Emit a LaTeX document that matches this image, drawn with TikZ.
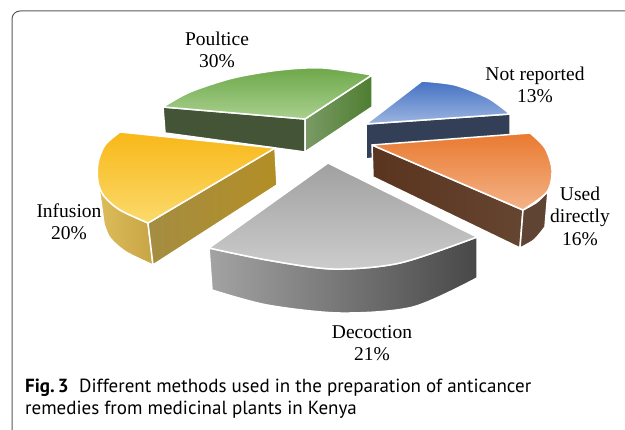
\documentclass[tikz,border=0pt]{standalone}
\usepackage{fontspec}
\setmainfont{Liberation Serif}
\newfontfamily\capfont{PT Sans}
\definecolor{poultopA}{HTML}{6EA84A}
\definecolor{poultopB}{HTML}{A8D08D}
\definecolor{poulwall}{HTML}{435536}
\definecolor{poulsideA}{HTML}{7A9A66}
\definecolor{poulsideB}{HTML}{4E7E30}
\definecolor{nottopA}{HTML}{4472C4}
\definecolor{nottopB}{HTML}{9DB5E0}
\definecolor{notwall}{HTML}{323F56}
\definecolor{inftopA}{HTML}{F8B818}
\definecolor{inftopB}{HTML}{FBDA6C}
\definecolor{infwallA}{HTML}{A48D42}
\definecolor{infwallB}{HTML}{B38E25}
\definecolor{infsideA}{HTML}{DCBC5C}
\definecolor{infsideB}{HTML}{C8A544}
\definecolor{usedtopA}{HTML}{E97A30}
\definecolor{usedtopB}{HTML}{F3B388}
\definecolor{usedwallA}{HTML}{5A341E}
\definecolor{usedwallB}{HTML}{654531}
\definecolor{usedside}{HTML}{5F4333}
\definecolor{dectopA}{HTML}{A0A0A0}
\definecolor{dectopB}{HTML}{CCCCCC}
\definecolor{decsideA}{HTML}{A3A3A3}
\definecolor{decsideB}{HTML}{484848}
\definecolor{framegray}{HTML}{595959}
\begin{document}
\begin{tikzpicture}[
		% one unit is one pixel of the page, y runs downwards
		x=1pt, y=-1pt,
		face/.style={draw=white, line width=1.5pt, line join=round},
		pielabel/.style={font=\fontsize{19.5}{22.5}\selectfont, align=center},
		captext/.style={font=\capfont\fontsize{19}{22}\selectfont, anchor=base west, inner sep=0pt},
		]
		\useasboundingbox (0,0) rectangle (625,430);
		\draw[framegray, line width=1pt, rounded corners=8pt] (12,430) -- (12,11) -- (625,11);
		% Poultice
		\path[face, fill=poulwall] (163,107) -- (305,119) -- (305,152) -- (165,133) -- cycle;
		\path[face, left color=poulsideA, right color=poulsideB] (305,119) -- (372,75) -- (372,107) -- (305,152) -- cycle;
		\path[face, top color=poultopA, bottom color=poultopB] (305,119) -- plot[smooth] coordinates {(163,107) (190,92) (233,78) (280,70) (323,68) (372,75)} -- cycle;
		% Not reported
		\path[face, fill=notwall] (366,124) -- (510,114) -- (510,140) -- (366,159) -- cycle;
		\path[face, top color=nottopA, bottom color=nottopB] (366,124) -- plot[smooth] coordinates {(422,81) (455,85) (488,98) (510,114)} -- cycle;
		% Infusion
		\path[face, left color=infsideA, right color=infsideB] plot[smooth] coordinates {(98,180) (104,196) (120,210) (148,223)} -- (153,265) -- plot[smooth] coordinates {(153,265) (126,252) (110,238) (104,224)} -- cycle;
		\path[face, left color=infwallA, right color=infwallB] (148,223) -- (275,148) -- (277,185) -- (153,265) -- cycle;
		\path[face, top color=inftopA, bottom color=inftopB] (275,148) -- plot[smooth] coordinates {(120,132) (105,145) (98,163) (98,182) (104,196) (120,210) (148,223)} -- cycle;
		% Used directly
		\path[face, left color=usedwallA, right color=usedwallB] (372,145) -- (523,210) -- (520,248) -- (373,177) -- cycle;
		\path[face, fill=usedside] plot[smooth] coordinates {(523,210) (537,202) (548,191)} -- (545,227) -- plot[smooth] coordinates {(545,227) (534,240) (520,248)} -- cycle;
		\path[face, top color=usedtopA, bottom color=usedtopB] (372,145) -- plot[smooth] coordinates {(530,133) (545,148) (552,170) (547,192) (523,210)} -- cycle;
		% Decoction
		\path[face, left color=decsideA, right color=decsideB] plot[smooth] coordinates {(209,248) (267,260) (333,269) (400,263) (477,237)} -- (477,278) -- plot[smooth] coordinates {(477,278) (413,307) (340,313) (267,305) (212,290)} -- cycle;
		\path[face, top color=dectopA, bottom color=dectopB] (328,163) -- plot[smooth] coordinates {(209,248) (267,260) (333,269) (400,263) (477,237)} -- cycle;
		% labels
		\node[pielabel] (poultice) at (217,50) {Poultice\\30\%};
		\node[pielabel] (notrep) at (535,85) {Not reported\\13\%};
		\node[pielabel] (useddir) at (580,216) {Used\\directly\\16\%};
		\node[pielabel] (infusion) at (69,222) {Infusion\\20\%};
		\node[pielabel] (decoction) at (372,343) {Decoction\\21\%};
		\node[captext] (capA) at (25,393) {\textbf{Fig.\,3}\hspace{0.55em}Different methods used in the preparation of anticancer};
		\node[captext] (capB) at (25,415) {remedies from medicinal plants in Kenya};
	\end{tikzpicture}
\end{document}
